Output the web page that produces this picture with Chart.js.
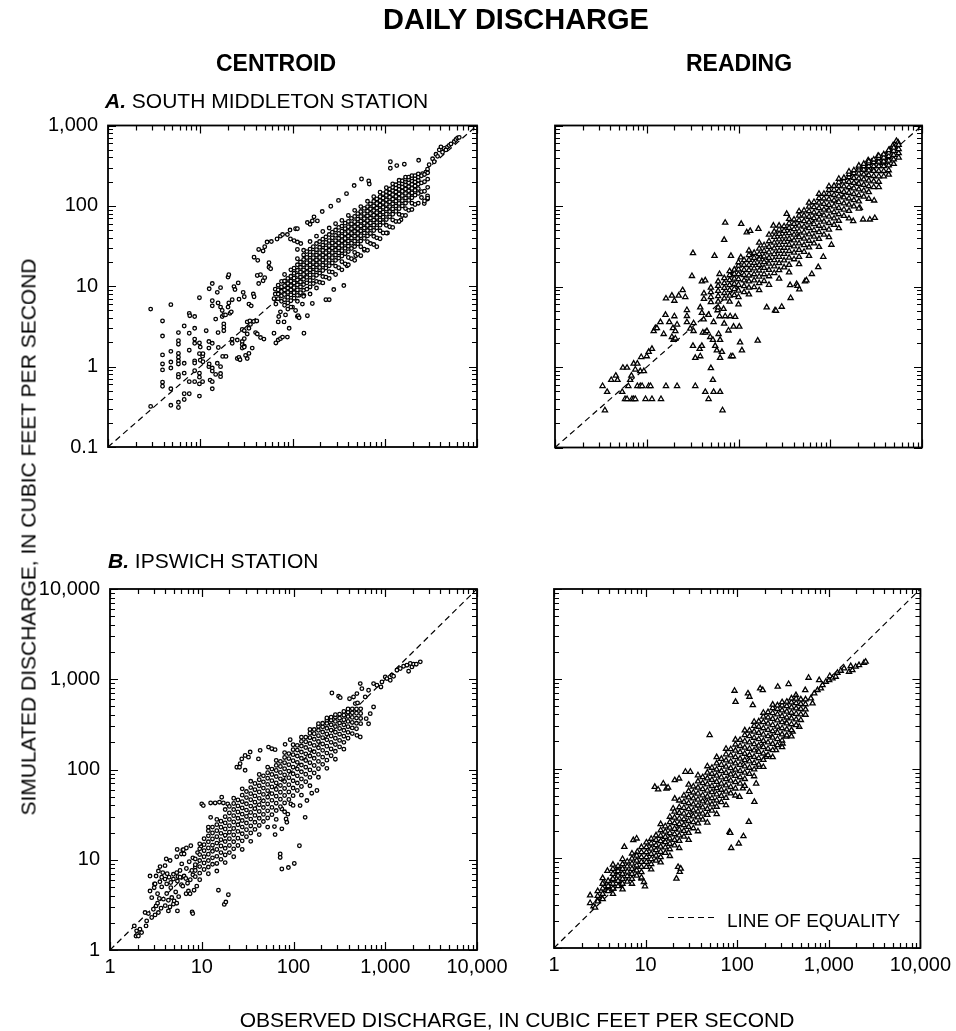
<!DOCTYPE html>
<html>
<head>
<meta charset="utf-8">
<title>Daily discharge</title>
<script src="https://cdn.jsdelivr.net/npm/chart.js@4.4.1/dist/chart.umd.min.js"></script>
<style>
  body { margin: 0; background: #fff; }
  #fig { position: relative; width: 956px; height: 1031px; overflow: hidden;
         font-family: "Liberation Sans", Arial, Helvetica, sans-serif; color: #000; }
  #fig canvas { position: absolute; left: 0; top: 0; }
  .lbl { position: absolute; white-space: nowrap; line-height: 1; }
  .bold { font-weight: bold; }
</style>
</head>
<body>
<div id="fig">
  <canvas id="panelA1" width="956" height="1031"></canvas>
  <canvas id="panelA2" width="956" height="1031"></canvas>
  <canvas id="panelB1" width="956" height="1031"></canvas>
  <canvas id="panelB2" width="956" height="1031"></canvas>

  <div class="lbl bold" style="left:516px; top:4.5px; font-size:29px; transform:translateX(-50%)">DAILY DISCHARGE</div>
  <div class="lbl bold" style="left:276px; top:52px; font-size:23px; transform:translateX(-50%)">CENTROID</div>
  <div class="lbl bold" style="left:739px; top:52px; font-size:23px; transform:translateX(-50%)">READING</div>
  <div class="lbl" style="left:105px; top:90.3px; font-size:21px"><b><i>A.</i></b> SOUTH MIDDLETON STATION</div>
  <div class="lbl" style="left:108px; top:550px; font-size:21px"><b><i>B.</i></b> IPSWICH STATION</div>
  <div class="lbl" style="left:28px; top:537px; font-size:21px; transform:translate(-50%,-50%) rotate(-90deg)">SIMULATED DISCHARGE, IN CUBIC FEET PER SECOND</div>
  <div class="lbl" style="left:517px; top:1009px; font-size:21px; transform:translateX(-50%)">OBSERVED DISCHARGE, IN CUBIC FEET PER SECOND</div>
  <div class="lbl" style="left:727px; top:910.5px; font-size:19px">LINE OF EQUALITY</div>
</div>

<script>
// ---------- Axis ranges and tick labels ----------
const southMiddletonRange = [0.1, 1000];
const ipswichRange = [1, 10000];
const southMiddletonTicks = [0.1, 1, 10, 100, 1000];
const ipswichTicks = [1, 10, 100, 1000, 10000];

// ---------- Data: rows are [observed, simulated, simulated, ...] in ft3/s ----------
const centroidSouthMiddleton = [
  // scattered days
  [0.29,5.2,0.32],[0.39,3.7,2.4,1.4,1.08,0.91,0.64,0.57],[0.48,5.9,1.55,1.14,0.96,0.53,0.33],
  [0.58,2.65,2.1,1.9,1.46,1.31,1.18,1.08,0.8,0.74,0.36,0.31],[0.67,3.2,1.1,0.83,0.46,0.39],
  [0.76,4.6,2.6,1.6,0.65,0.46],[0.77,4.3],[0.87,4.2,3.0,2.2,1.95,1.18,1.11,0.89,0.65],
  [0.98,7.2,1.97,1.45,0.83,0.74,0.61,0.43],[1.0,1.75,1.2],[1.06,1.35,0.65],[1.07,1.45,1.15],[1.16,2.8],
  [1.24,2.05,1.7,1.0],[1.25,9.3,1.08],[1.28,0.68],[1.35,10.8,6.6,5.7,1.95,0.96,0.88,0.65,0.53],
  [1.47,3.9,0.8],[1.53,8.4,1.1],[1.56,6.2,2.65],[1.57,1.73],[1.66,9.6,5.5,1.0,0.75,0.82],
  [1.73,4.2,5.0],[1.75,1.34],[1.8,4.4,3.4,3.1,2.8],[1.88,4.4],[1.9,1.34],[2.0,13.0,5.5],
  [2.04,13.9,6.2],[2.1,4.6],[2.17,4.8],[2.22,6.8,2.2,1.95],[2.32,9.9],[2.38,9.1],[2.52,2.14,1.26],
  [2.58,11],[2.63,6.9,1.3],[2.7,1.22],[2.85,2.9,2.05,1.88,1.7],[2.92,8.4],[3.0,7.4,2.8,2.23,1.8,1.75],
  [3.1,1.38],[3.23,3.6,2.55,1.26],[3.37,6.0,3.0,1.46],[3.45,3.7],[3.5,3.35],[3.57,5.7],[3.66,1.7],
  [3.76,8.0],[3.8,3.65],[3.83,23,7.4],[3.98,2.65],[4.1,3.7],[4.15,13.6,2.55],[4.2,21],[4.3,28.7,10.8],
  [4.5,13.9,2.3],[4.8,27.5,11.7],[4.9,2.2],[5.0,31,12.8],[5.3,35.5],[5.56,19.6,17.2],[5.8,16.5],
  [5.9,36],[6.3,2.6,7.0],[6.6,1.97,6.0],[6.8,38.7],[7.0,2.14,3.6],[7.1,4.2],[7.4,42,2.23,4.8,8.7],
  [7.8,44,2.33],[8.1,3.6],[8.4,4.4,9.9],[8.8,44,2.33],[8.9,5.2],[9.2,3.0],[9.4,50,9.1],[9.5,38.7],
  [10,5.5],[10.4,37,8.4],[10.8,52,5.0],[11.3,52,35.5,28.7,4.2],[11.5,4.3],[11.8,4.05,7.7],[12.3,34],
  [12.8,6],[13.3,2.6,7.7],[14.5,62,4.3],[15.5,59],[16.4,65,6.1],[17.1,73],[18.6,65],[21,85],[23,6.8],
  [25,6.8],[26,99],[28,9.1],[31.5,117],[36,10.2],[38.5,142],[39,18],[46.6,179],[48.5,24],[56,216],
  [60,28],[67,204],[68,187],[82,31],[107,46],[115,354,294],[135,317],[150,67],[163,330],[233,369],
  [257,252],[268,107],[279,263],[291,286,122,133],[303,325],[330,385],[344,354],[359,438],[374,413],
  [390,497],[406,542],[423,465],[441,519],[460,497],[479,542],[500,565],[522,590],[567,631],[591,670],
  [616,699],[642,711],
  // dense band
  [6.5,8,9.2],[7.0,7,8,9,10.3],[7.6,6.5,7.6,8.6,9.8,11.5],[8.2,5.8,6.8,7.9,9,10.2,11.6,14],
  [8.9,6.2,7.3,8.4,9.5,10.8,12.5],[9.6,5.5,6.6,7.8,9,10.2,11.6,13.3,16],[10.4,7.1,8.3,9.6,11,12.6,14.5,16.8],
  [11.3,6.5,7.7,9,10.4,12,13.7,15.8,18.5,22],[12.2,8.3,9.8,11.3,13,15,17.2,20],
  [13.2,7.5,8.9,10.5,12.2,14,16,18.5,21.5,24.5,28],[14.3,9.2,11,12.9,14.9,17,19.6,22.8,27],
  [15.5,8,9.8,11.8,13.8,16,18.4,21,24.5,29,36],[16.8,10.8,12.8,15,17.3,19.8,22.7,26.5,31],
  [18.2,9.5,11.5,13.7,16,18.5,21.2,24.4,28.5,34,42],[19.7,11.2,14.6,17.1,19.8,22.8,26.2,30.5,36],
  [21.3,11,13.2,15.7,18.3,21.2,24.4,28,32.5,38.5,48],[23,13,16.9,19.7,22.8,26.2,30,35,41],
  [25,12.5,15.2,18,21,24.3,28,32,37,44,53],[27,15,19.5,22.7,26.2,30,34.5,40,47],
  [29.3,14,17.8,21,24.4,28.2,32.4,37,43,50,60],[31.7,17,22.4,26,30,34.5,39.5,45.5,54],
  [34.3,16,20.2,23.8,27.7,32,36.8,42,48.5,56,66],[37.2,19,25.4,29.6,34.2,39.3,45,52,61],
  [40.3,18.5,22.8,27,31.5,36.5,42,48,55,64,76],[43.6,22,29.5,34.3,39.6,45.5,52,59.5,70],
  [47.2,21,26.4,31.2,36.4,42,48.3,55.3,63.5,74,88],[51,25,33.7,39.3,45.4,52,59.6,68.5,80],
  [55,24,31,36.5,42.5,49,56.3,64.5,74,85,98],[60,29,39.4,45.9,53,60.8,69.6,80,93],
  [65,28,35.8,42.3,49.3,57,65.4,75,86,98,114],[70,34,45.4,53,61.2,70.3,80.5,92,106],
  [76,33,41.8,49.4,57.6,66.5,76.4,87.5,100,114,130],[82,40,53.3,62,71.6,82.2,94,107,122],
  [89,39,49,57.6,67,77.4,89,102,116,130,148],[96,46,62,72.3,83.6,96,110,125,142],
  [104,46,57.3,67.5,78.7,91,104,119,135,150,168],[113,55,73,85,98,112,128,145,162],
  [122,54,66.8,78.7,91.6,106,121,138,155,170,188],[132,64,85.4,99.3,114.5,131,149,166,183],
  [143,64,78.5,92.4,107,124,141,160,177,192,208],[155,76,100,116,134,152,171,189,205],
  [168,76,92.5,108,125,143,162,182,200,215,228],[182,88,117,135,154,174,194,212,228],
  [197,90,108,126,145,165,185,205,222,238],[213,104,136,156,177,198,218,238],
  [231,108,143,164,186,208,228,250],[250,127,150,193,237],[270,115,152,200,246],[292,125,170,215,258]
];

const readingSouthMiddleton = [
  // scattered days
  [0.33,0.58],[0.35,0.29],[0.37,0.49],[0.41,0.69],[0.46,0.78],[0.48,0.69],[0.54,0.49],[0.55,0.98],
  [0.58,0.40],[0.61,0.40,0.98],[0.63,0.58],[0.66,0.69],[0.68,0.78],[0.69,0.40],[0.72,0.40,1.1],
  [0.75,0.40,0.93],[0.79,0.58,1.1],[0.85,0.58,0.89],[0.87,1.33],[0.89,0.58],[0.93,0.89],[0.97,0.40],
  [1.0,1.36],[1.05,0.58,1.54],[1.1,0.58],[1.14,0.40,1.68],[1.19,2.79],[1.24,3.04],[1.29,3.04],
  [1.41,3.61],[1.43,0.40],[1.53,2.57],[1.6,4.45],[1.62,0.58,7.1],[1.76,3.61],[1.88,2.36,7.7],
  [1.93,3.04],[1.96,2.17],[2.0,4.27,6.65],[2.05,2.79,2.26],[2.14,3.37,0.58],[2.23,7.7],[2.46,9.0],
  [2.63,7.4],[2.74,5.1,4.3,3.6],[2.98,3.0],[3.11,13.5],[3.19,26,1.83],[3.24,3.5,2.8],[3.38,1.3,0.58],
  [3.77,1.68],[3.83,1.36,5.5],[3.99,1.83,4.7,11.6],[4.09,2.68],[4.17,3.9],[4.34,2.68,0.49,11.9],
  [4.53,2.79],[4.72,4.45,0.40],[4.92,2.36],[5.0,0.97],[5.26,0.69,2.17],[5.35,0.49,3.61],[5.48,24],
  [5.57,1.83],[5.81,1.61],[5.92,5.07],[6.07,2.57],[6.21,4.27,14.3],[6.3,0.49,1.3,2.17],[6.6,1.54],
  [6.7,0.29],[6.87,5.28],[6.98,3.46,38],[7.16,4.27,62],[7.78,2.84],[8.11,4.27],[8.27,1.36,24],
  [8.67,1.36],[8.83,3.18,14.7],[9.2,4.2],[10.2,3.18],[10.4,2.02],[10.6,23],[10.7,60],[10.9,1.61],
  [11.1,14.7],[12.3,47],[13.4,49,25.5],[16.2,2.13],[16.5,52],[17.2,23.4],[20.3,5.5],[24,57],
  [25,5.07],[25.6,5.0],[29.6,5.6],[33.5,80],[36.5,10.4],[37,7.2],[43,10.7],[44,10.2],[46,9.2],
  [53,11.6],[55,11.9],[63,14.3],[74,17.4],[84,23.4],[103,33],[178,65],[210,95],[228,68],[238,287],
  [248,312],[259,370],[270,68],[281,355],[293,287],[301,117],[306,71],[319,326],[332,420],[361,403],
  [377,340],[410,438,355],[427,403],[445,498],[484,566],[526,643],[548,616],
  // dense band
  [4.2,7,8.2],[5.0,6.4,7.4,8.5,9.7],[6.0,5.5,6.5,7.6,8.8,10.2,11.6],[7.0,7.1,8.3,9.6,11,12.7],
  [8.0,6.5,7.7,9,10.4,12,13.8,15.5],[9.0,7.8,9.3,10.8,12.5,14.3,16.2],
  [10.0,6,7.4,8.9,10.5,12.3,14.2,16.3,18.2,20],[11.5,8.5,10.1,11.9,13.9,16.1,18.6,21.3],
  [13.0,8,9.7,11.6,13.7,16,18.5,21.4,24.6,28],[14.8,9.8,11.9,14.2,16.8,19.6,22.7,26.2],
  [16.8,9,11,13.3,15.8,18.6,21.7,25.2,29.5,35],[19.0,11.7,14.2,17,20.1,23.6,27.6,32.5],
  [21.5,10.5,13.4,16.1,19.2,22.7,26.6,31,36.5,44],[24.5,14.7,17.8,21.3,25.3,29.8,35,41.3,48],
  [27.7,12.5,16,19.5,23.4,27.8,32.8,38.5,45,51,57],[31.4,17.3,21.1,25.4,30.3,35.8,42,49,56],
  [35.6,15,18.6,22.8,27.6,33,39,46,53.5,61,69],[40.3,21.8,26.3,31.5,37.4,44,51.5,60,68],
  [45.7,19,23.4,28.5,34.3,41,48.5,57,66.5,76,86],[51.8,27,32.7,39.3,46.8,55.3,65,76,88],
  [58.7,24,30.6,37,44.4,53,62.6,73.5,86,98,110],[66.5,34.3,41.6,50,59.7,70.6,83,97,112],
  [75.4,31,39,47.3,56.8,67.7,80,94,110,125,142],[85.4,44,53.3,64,76.3,90.3,106,124,142],
  [96.8,41,51,61.5,73.6,87.4,103,121,141,158,176],[110,58.2,70,83.6,99.2,117,137,159,178],
  [124,53,65.6,79,94.4,112,132,154,178,197,218],[141,75.2,90.4,108,128,150,175,202,224],
  [160,70,87,104,124,146,171,199,228,248,268],[181,99,118.5,141,166,194,224,255,278],
  [205,93,114,136,161,189,220,252,283,302,318],[232,131,155,183,214,247,282,312,334],
  [263,123,149,176,207,241,277,313,340,358],[298,172,202,236,273,312,350,378],
  [338,172,200,234,272,313,355,392,418],[383,234,272,313,357,400,438],
  [434,245,278,320,366,415,460,495],[492,333,380,432,485,530],[557,400,453,510,575]
];

const centroidIpswich = [
  // scattered days
  [1.84,1.85],[1.92,1.43],[1.95,1.63],[1.99,1.49],[2.04,1.43],[2.12,1.7],[2.21,1.56],[2.41,2.6],
  [2.47,1.85],[2.51,2.1],[2.62,2.53],[2.73,6.6,4.5],[2.85,2.29,3.8],[2.97,2.83],[3.03,4.9],[3.05,5.4],
  [3.1,2.45,5.4],[3.18,6.6,3.08],[3.3,4.2,3.3],[3.37,2.6,7.5],[3.45,3.72],[3.5,5.7],[3.51,8.4],
  [3.6,2.9],[3.66,5.0,6.4],[3.76,7.2],[3.82,3.66],[3.98,8.6,6.1],[4.0,3.1],[4.1,10.2],[4.15,4.22,5.4],
  [4.2,7.0],[4.33,3.56,2.71],[4.4,6.4],[4.5,3.0],[4.52,9.8],[4.59,5.6],[4.6,4.9],[4.71,3.81],
  [4.91,3.22,6.1,6.9],[5.0,3.5],[5.2,4.4],[5.34,10.8,3.3,7.2],[5.4,13],[5.43,2.71,5.8],[5.5,6.5],
  [5.6,3.9],[5.8,6.4,7.6],[6.0,5.3,11.6],[6.05,9.0],[6.21,12.8,5.1],[6.3,12.9],[6.42,11.6,6.6],
  [6.7,6.2],[6.75,4.2],[6.8,13.5,8.0],[7.0,5.5],[7.16,4.5],[7.3,9.5],[7.46,4.2],[7.5,6.0],[7.6,14.3],
  [7.8,7.6],[7.85,2.64],[7.98,2.53],[8.0,6.8,10.5],[8.25,4.6],[8.5,8.3],[8.82,5.1],[9.0,12],[9.8,14],
  [10,41.6],[10.4,39.8],[12.5,42.6,29.5],[14,42.6],[15.2,4.6],[15.6,43.4],[16.5,49.3],[17.2,42.6],
  [17.6,3.2],[18.3,3.4],[19.2,41.6],[19.5,4.1],[24.1,106],[25.8,106],[26.2,116],[27.3,131],
  [29.7,143,98],[32.3,137],[33.7,156],[41.5,131],[43.3,163],[53.4,177],[58,170],[62,23.3],
  [63,166,19],[71.6,11.6,10.6],[74.6,7.9,22,36.5],[81,190],[83,28.3],[84.6,26],[86.7,32],[88,8.2],
  [92,214],[93.5,41.6],[102,9.1],[116,14.3],[118,39.8],[134,29.5],[140,45.3],[158,54.6],[180,58.5],
  [262,704],[310,647],[323,625],[408,609],[451,637],[471,537],[491,693,239],[499,546],[534,895,229],
  [556,787],[605,637],[620,366],[658,755,321],[686,416],[746,895,493],[811,858],[897,822],[920,934],
  [1000,1061],[1043,1017],[1134,975],[1183,1106],[1233,1080],[1340,1259],[1458,1315],[1585,1394],
  [1722,1431],[1797,1228],[1874,1494],[1953,1371],[2038,1469],[2179,1469],[2410,1559],
  // dense band
  [8.5,6.5,7.6,8.8,10.2],[9.5,6,7.1,8.4,9.8,11.4,13.2,15],[10.6,7.8,9.2,10.8,12.6,14.7,17.1],
  [11.8,7,8.3,9.8,11.5,13.5,15.8,18.4,21,23],[13.1,8.9,10.5,12.4,14.5,17,19.8,23],
  [14.6,7.5,9.1,10.9,13,15.3,18,21,24.5,28],[16.2,10.1,12,14.2,16.7,19.6,22.9,26.7],
  [18,9.3,11.3,13.4,15.9,18.7,21.9,25.6,30,36],[20,12,14.4,17.1,20.2,23.8,28,33,39],
  [22.3,10.8,13.2,15.8,18.8,22.2,26.2,30.8,36,42,48],[24.8,14.4,17.3,20.6,24.4,28.8,33.8,39.5,46],
  [27.6,13,16.2,19.4,23,27.2,32,37.5,44,52,61],[30.7,18,21.5,25.5,30.2,35.5,41.7,48.8,57],
  [34.2,16,19.8,23.7,28.2,33.4,39.3,46.2,54,63,74],[38,21.7,26,31,36.8,43.4,51,59.7,70],
  [42.3,19,24,28.8,34.3,40.6,47.9,56.3,66,77,88],[47,26.5,31.8,37.9,44.9,53,62.2,73,85],
  [52.3,23,29,34.8,41.5,49.3,58.2,68.4,80,92,106],[58.2,31.6,38,45.5,54,64,75.2,88,101],
  [64.8,28,35.1,42.3,50.6,60.1,71,83.5,97.5,111,126],[72,38.8,46.8,56,66.6,78.8,92.6,108,123],
  [80,34,42.6,51.5,61.7,73.5,87,102,119,136,154],[89,46.5,56.4,67.8,81,96,113,132,150],
  [99,40,51.3,62.3,75,89.6,106,125,146,166,188],[110,58.5,70.8,85,101,120,141,164,185],
  [122,52,64.8,78.5,94.3,112,133,156,182,205,228],[136,73.2,88.6,106,126,149,175,203,228],
  [151,66,81.8,99,119,141,166,194,225,252,278],[168,91.5,110.7,133,157,185,216,249,277],
  [187,82,102,123,147,174,204,237,272,300,322],[208,114,137,163,192,225,260,297,325],
  [231,103,127,152,181,213,248,286,324,352,372],[257,142,169,200,235,273,313,352,380],
  [286,130,159,189,222,259,299,341,380,405],[318,178,210,246,285,327,370,410],
  [354,168,200,234,272,313,356,400,440],[393,222,258,298,341,386,432,468],
  [437,250,289,332,378,425,470],[486,283,325,371,420,468],[540,322,368,418,470]
];

const readingIpswich = [
  // scattered days
  [2.48,3.86,3.17],[2.7,2.92],[2.81,2.82],[2.98,3.4],[3.32,3.55],[3.47,5.44],[3.61,4.4],[3.83,5.2,7.23],
  [3.93,4.78],[4.27,5.68],[4.45,4.59],[4.64,7.05],[4.84,5.93],[5.05,7.67],[5.26,5.0],[5.86,13.4],
  [7.34,15.9],[7.98,16.6],[8.12,11.8],[9.05,5.93],[9.59,5.44],[9.84,4.87],[12.6,62.5],[13.7,58.4],
  [15.6,68.1],[16.9,59.8],[17.6,61.4],[20,35.8],[20.8,74.1,46.2],[21.7,5.93],[22.6,8],[23.2,77.4],
  [23.6,7.05],[24.2,7.67],[27.2,91.9],[30.8,91.9],[50,236],[82.5,19.7],[84,19.2],[86,13],[93.5,735],
  [95.9,553],[104,14.6],[106,48.3],[115,60],[117,17.6],[131,686],[134,25.4],[136,630,55],[148,508],
  [154,42.5],[161,68],[175,104],[178,780],[190,748],[207,135],[265,160],[277,815],[313,190],[341,226],
  [364,873],[403,257],[438,657],[476,292],[553,748],[601,1026],[637,604],[664,531],[693,686],[753,748],
  [785,966],[819,780],[854,849],[928,926],[1009,966],[1025,1072],[1096,1009],[1191,1052],[1242,1167],
  [1350,1228],[1468,1303],[1663,1197],[1735,1385],[1808,1250],[1964,1362],[2136,1420],[2421,1507],
  [2525,1548],
  // dense band
  [3.0,3.3,3.8,4.3],[3.4,3.5,4,4.6,5.2,6],[3.9,4.3,4.9,5.6],[4.4,4,4.6,5.2,5.9,6.7,7.6,8.5],
  [5.0,4.9,5.6,6.4,7.2,8.2],[5.6,4.5,5.2,5.9,6.7,7.6,8.6,9.8],[6.3,5.5,6.3,7.1,8.1,9.2],
  [7.1,5.2,5.9,6.7,7.6,8.7,9.9,11.3],[8.0,6.4,7.3,8.3,9.4,10.7],[9.0,6.1,7,8,9.1,10.3,11.7,13.3],
  [10.2,8,9.1,10.3,11.7,13.3,15],[11.5,7.5,8.6,9.8,11.2,12.8,14.6,16.5],[13,9.4,10.7,12.3,14,16,18],
  [14.6,9,10.3,11.8,13.5,15.5,17.8,20.5,24],[16.4,11.5,13.2,15.1,17.3,19.8,22.7],
  [18.4,10.6,12.6,14.5,16.6,19.1,21.9,25.2,29],[20.7,13.9,16,18.5,21.3,24.6,28.4,33],
  [23.3,13,15.6,18,20.8,24,27.7,32,37,44],[26.2,17.4,20.2,23.4,27.2,31.5,36.5,42.4,50],
  [29.5,16,19.2,22.4,26,30.3,35.2,41,47.7,56,66],[33.2,21.6,25.2,29.3,34.2,39.8,46.4,54,63],
  [37.3,20,24.5,28.5,33.2,38.7,45.1,52.6,61.3,72,84],[42,26.9,31.5,36.8,43,50.3,58.8,68.7,80],
  [47.2,25,30.4,35.5,41.6,48.6,56.8,66.5,77.7,90,106],[53,34,39.8,46.6,54.5,63.8,74.7,87.4,102],
  [59.7,31,37.5,44,51.6,60.5,71,83.2,97.5,114,134],[67.1,42.2,49.5,58,68,79.8,93.6,110,128],
  [75.5,39,47,55.2,64.8,76,89.3,105,123,144,166],[85,52.9,62.2,73.1,86,101,119,140,164],
  [95.6,50,59.9,70.4,82.7,97.2,114,134,158,185,210],[107.5,68,79.9,93.8,110,129,152,178,208],
  [121,64,76.4,89.8,105.5,124,146,171,201,235,266],[136,86.9,102,120,141,166,195,229,265],
  [153,82,97.6,115,135,159,187,220,258,298,332],[172,110.5,130,153,180,212,249,292,335],
  [193,104,125,147,173,203,239,281,329,378,418],[217,141,166,195,229,269,316,370,425],
  [244,134,160,188,221,260,305,357,415,470,515],[275,182,213,250,293,343,400,460,505],
  [309,173,205,240,281,329,384,445,505,548],[348,234,273,318,370,430,495,555],
  [391,228,268,311,361,418,480,545,605],[440,304,352,407,468,535,600],[495,347,400,460,525,590],
  [557,397,456,520,590]
];

// ---------- Helpers ----------
const FONT = '"Liberation Sans", Arial, Helvetica, sans-serif';

function toPoints(rows) {
  return rows.flatMap(([obs, ...sims]) => sims.map((sim) => ({ x: obs, y: sim })));
}

function formatTick(value) {
  return Number(value).toLocaleString("en-US");
}

// inward ticks on all four sides plus the frame
const frameTicks = {
  id: "frameTicks",
  afterDatasetsDraw(chart) {
    const { ctx, chartArea: a, scales } = chart;
    ctx.save();
    ctx.strokeStyle = "#000";
    ctx.setLineDash([]);
    ctx.lineWidth = 1.2;
    ["x", "y"].forEach((id) => {
      const s = scales[id];
      for (let d = s.min; d <= s.max * 1.001; d *= 10) {
        for (let k = 1; k <= 9; k++) {
          const v = d * k;
          if (v > s.max * 1.001) break;
          const len = k === 1 ? 8 : 5;
          const p = Math.round(s.getPixelForValue(v)) + 0.5;
          ctx.beginPath();
          if (id === "x") {
            ctx.moveTo(p, a.bottom); ctx.lineTo(p, a.bottom - len);
            ctx.moveTo(p, a.top); ctx.lineTo(p, a.top + len);
          } else {
            ctx.moveTo(a.left, p); ctx.lineTo(a.left + len, p);
            ctx.moveTo(a.right, p); ctx.lineTo(a.right - len, p);
          }
          ctx.stroke();
        }
      }
    });
    ctx.lineWidth = 1.8;
    ctx.strokeRect(a.left, a.top, a.right - a.left, a.bottom - a.top);
    ctx.restore();
  },
};

// small dashed sample next to the "LINE OF EQUALITY" text
const equalityKey = {
  id: "equalityKey",
  afterDraw(chart) {
    const { ctx, chartArea: a } = chart;
    ctx.save();
    ctx.strokeStyle = "#000";
    ctx.lineWidth = 1.2;
    ctx.setLineDash([6, 4]);
    ctx.beginPath();
    ctx.moveTo(a.left + 114, a.bottom - 30.5);
    ctx.lineTo(a.left + 164, a.bottom - 30.5);
    ctx.stroke();
    ctx.restore();
  },
};

function logAxis(range, tickValues, show, size, padding) {
  return {
    type: "logarithmic",
    min: range[0],
    max: range[1],
    display: show,
    grid: { display: false, drawTicks: false },
    border: { display: false },
    ticks: {
      color: "#000",
      padding: padding,
      autoSkip: false,
      maxRotation: 0,
      font: { family: FONT, size: 20 },
      callback: formatTick,
    },
    afterBuildTicks: (s) => { s.ticks = tickValues.map((value) => ({ value })); },
    afterFit: (s) => {
      if (s.isHorizontal()) s.height = size; else s.width = size;
    },
  };
}

function makePanel(canvasId, rows, range, tickValues, opts) {
  const [lo, hi] = range;
  return new Chart(document.getElementById(canvasId), {
    type: "scatter",
    data: {
      datasets: [
        {
          data: toPoints(rows),
          pointStyle: opts.marker,
          pointRadius: opts.radius,
          borderWidth: 1.3,
          borderColor: "#000",
          backgroundColor: "#fff",
          order: 1,
        },
        {
          data: [{ x: lo, y: lo }, { x: hi, y: hi }],
          showLine: true,
          borderColor: "#000",
          borderWidth: 1.2,
          borderDash: [6, 4],
          pointRadius: 0,
          fill: false,
          order: 2,
        },
      ],
    },
    options: {
      responsive: false,
      animation: false,
      events: [],
      layout: { padding: opts.padding },
      plugins: { legend: { display: false }, tooltip: { enabled: false } },
      scales: {
        x: logAxis(range, tickValues, opts.showX, 40, 5),
        y: logAxis(range, tickValues, opts.showY, opts.left, 10),
      },
    },
    plugins: opts.key ? [frameTicks, equalityKey] : [frameTicks],
  });
}

// ---------- Panels ----------
makePanel("panelA1", centroidSouthMiddleton, southMiddletonRange, southMiddletonTicks, {
  marker: "circle", radius: 1.8, showX: false, showY: true, left: 108,
  padding: { top: 125.5, right: 479, bottom: 544, left: 0 },
});
makePanel("panelA2", readingSouthMiddleton, southMiddletonRange, southMiddletonTicks, {
  marker: "triangle", radius: 3, showX: false, showY: false, left: 0,
  padding: { top: 125.5, right: 34, bottom: 543.5, left: 555 },
});
makePanel("panelB1", centroidIpswich, ipswichRange, ipswichTicks, {
  marker: "circle", radius: 1.8, showX: true, showY: true, left: 110,
  padding: { top: 589, right: 479, bottom: 41, left: 0 },
});
makePanel("panelB2", readingIpswich, ipswichRange, ipswichTicks, {
  marker: "triangle", radius: 3, showX: true, showY: false, left: 0, key: true,
  padding: { top: 589, right: 34, bottom: 43, left: 554 },
});
</script>
</body>
</html>
